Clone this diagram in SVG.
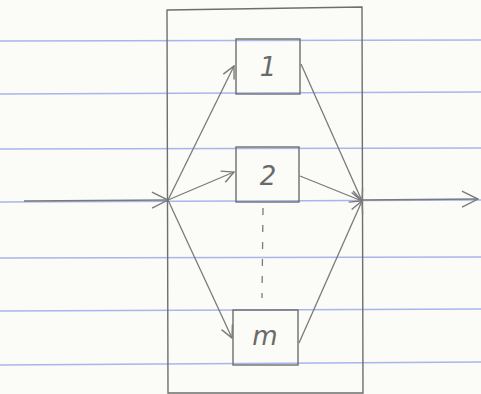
<svg xmlns="http://www.w3.org/2000/svg" width="481" height="394" viewBox="0 0 481 394">
<defs>
<style>
.rule{stroke:#a9b6ea;stroke-width:1.3}
.pen{stroke:#7a7a7a;stroke-width:1.3;fill:none}
.box{stroke:#6e6e6e;stroke-width:1.4;fill:none}
.lbl{font-family:"DejaVu Sans",sans-serif;font-style:italic;font-size:26px;fill:#6a6a6a;text-anchor:middle}
</style>
<marker id="ah" viewBox="0 0 14 14" refX="13" refY="7" markerWidth="14" markerHeight="14" markerUnits="userSpaceOnUse" orient="auto">
<path d="M1,1 L13,7 L1,13" fill="none" stroke="#7a7a7a" stroke-width="1.4"/>
</marker>
<marker id="ahl" viewBox="0 0 18 18" refX="17" refY="9" markerWidth="18" markerHeight="18" markerUnits="userSpaceOnUse" orient="auto">
<path d="M1,1 L17,9 L1,17" fill="none" stroke="#7a7a7a" stroke-width="1.4"/>
</marker>
</defs>
<rect width="481" height="394" fill="#fbfbf8"/>
<g id="ruled">
<line class="rule" x1="0" y1="41" x2="481" y2="40"/>
<line class="rule" x1="0" y1="94" x2="481" y2="92"/>
<line class="rule" x1="0" y1="149" x2="481" y2="148"/>
<line class="rule" x1="0" y1="202" x2="481" y2="200"/>
<line class="rule" x1="0" y1="258" x2="481" y2="257"/>
<line class="rule" x1="0" y1="311" x2="481" y2="309"/>
<line class="rule" x1="0" y1="365" x2="481" y2="362"/>
</g>
<g id="system">
<path class="box" d="M167,10 L362,7 L363,393 L168,393 Z"/>
</g>
<g id="node1">
<rect class="box" x="236" y="39" width="64" height="55"/>
<text class="lbl" x="268" y="76">1</text>
</g>
<g id="node2">
<rect class="box" x="236" y="147" width="63" height="55"/>
<text class="lbl" x="268" y="185">2</text>
</g>
<g id="nodem">
<rect class="box" x="233" y="310" width="65" height="55"/>
<text class="lbl" x="265" y="345">m</text>
</g>
<g id="connectors">
<line class="pen" x1="24" y1="201" x2="168" y2="200" marker-end="url(#ahl)"/>
<line class="pen" x1="168" y1="200" x2="234" y2="66" marker-end="url(#ah)"/>
<line class="pen" x1="168" y1="200" x2="234" y2="172" marker-end="url(#ah)"/>
<line class="pen" x1="168" y1="200" x2="232" y2="338" marker-end="url(#ah)"/>
<line class="pen" x1="301" y1="64" x2="362" y2="201" marker-end="url(#ah)"/>
<line class="pen" x1="300" y1="176" x2="362" y2="201" marker-end="url(#ah)"/>
<line class="pen" x1="299" y1="343" x2="362" y2="201" marker-end="url(#ah)"/>
<line class="pen" x1="362" y1="200" x2="478" y2="199" marker-end="url(#ahl)"/>
<line class="pen" x1="263" y1="208" x2="262" y2="298" stroke-dasharray="7,10"/>
</g>
</svg>
